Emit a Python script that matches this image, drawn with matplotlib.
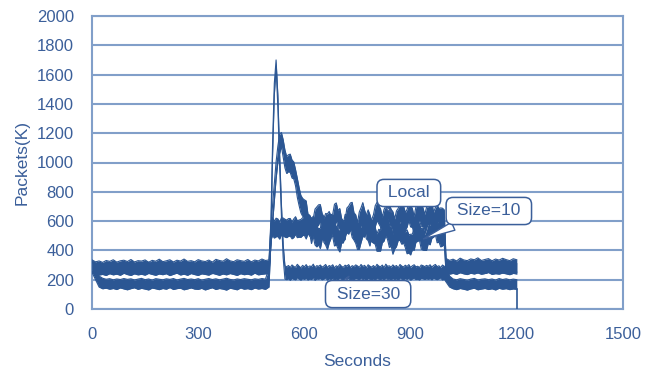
import numpy as np
import matplotlib
matplotlib.use("Agg")
import matplotlib.pyplot as plt

plt.rcParams['font.family'] = ['Liberation Sans', 'DejaVu Sans']

# ---------------- data ----------------
# time grid: 0-490 every 10 s, 500-995 every 5 s, 1000-1200 every 10 s
t_a = list(range(0, 500, 10))
t_b = list(range(500, 1000, 5))
t_c = list(range(1000, 1201, 10))
seconds = np.array(t_a + t_b + t_c)

# Local: lower / upper edge of the noisy trace (packets, K)
local_lo = ([250,238,232,236,229,241,233,238,230,244, 235,229,240,233,237,231,243,236,230,239,
             234,241,228,237,245,232,238,230,242,235, 229,240,236,231,244,237,230,239,233,242,
             236,229,241,234,238,231,245,233,237,240]
            + [240,418,582,734,888,1000,1062,1111,1037,963,
               925,938,932,894,888,840,762,706,657,633,
               628,612,525,515,447,509,543,560,572,604,
               529,455,437,406,451,482,530,552,608,551,
               553,486,467,474,555,590,589,574,531,498,
               456,532,573,573,555,479,467,430,494,528,
               561,604,582,561,493,539,567,616,578,562,
               514,471,549,565,600,603,536,537,559,605,
               560,558,513,532,602,606,565,563,517,560,
               579,580,586,541,532,604,564,551,555,537]
            + [245,238,243,236,248,240,235,244,239,246, 237,242,249,236,241,238,245,240,234,243, 239])
local_hi = ([335,322,328,318,331,325,336,320,329,333, 324,338,321,330,327,335,319,332,326,340,
             323,329,336,321,333,327,341,325,330,322, 337,328,324,334,320,339,331,326,343,329,
             323,336,330,325,338,322,334,328,341,331]
            + [335,533,707,857,1004,1111,1192,1205,1156,1085,
               1040,1053,1057,1017,1004,951,892,829,776,755,
               745,738,649,636,617,618,682,697,711,713,
               652,630,550,539,548,644,647,715,724,671,
               686,619,600,606,689,702,724,728,657,643,
               590,662,691,726,676,638,565,585,611,643,
               705,728,707,684,628,680,703,722,718,680,
               664,615,669,687,718,716,706,658,680,722,
               712,685,633,698,714,719,728,690,646,693,
               699,727,725,661,692,711,686,690,688,677]
            + [345,332,340,328,347,335,330,342,336,349, 331,338,344,329,341,334,346,337,330,343, 336])

# Size=10
s10_lo = ([255,246,251,243,249,256,244,250,247,253, 242,252,248,245,254,241,250,246,253,244,
           249,255,243,251,247,240,252,248,245,256, 243,250,246,254,241,249,253,245,251,247,
           244,255,242,250,248,253,246,241,252,249]
          + [248,466,503,484,493,495,477,505,499,491,
             487,496,498,479,488,510,487,490,489,501,
             503,478,516,496,509,492,437,424,439,412,
             471,485,534,518,522,528,492,430,440,410,
             389,450,452,497,521,511,542,488,470,448,
             406,407,454,495,491,528,526,524,458,450,
             442,394,395,395,452,464,502,473,420,431,
             374,410,426,468,468,442,452,419,377,383,
             369,405,401,456,462,469,410,402,400,400,
             448,438,483,490,507,452,458,424,430,440]
          + [255,250,246,253,248,256,244,251,247,254, 249,243,252,246,255,248,250,245,253,247, 251])
s10_hi = ([318,305,312,302,315,309,301,314,306,311, 303,317,308,300,313,307,319,304,310,302,
           316,306,312,303,309,318,305,313,301,310, 307,315,304,312,300,317,308,303,314,306,
           311,302,316,309,305,313,301,310,307,315]
          + [318,587,623,599,620,615,592,622,621,613,
             607,617,618,594,615,630,602,607,611,623,
             630,602,646,640,617,633,571,563,549,550,
             613,618,652,649,666,636,640,573,567,545,
             523,579,582,645,647,654,661,611,614,568,
             534,565,560,626,633,642,677,644,600,595,
             556,513,544,537,579,601,611,622,568,550,
             508,552,554,587,589,608,565,526,540,507,
             510,511,555,565,616,578,548,553,507,541,
             586,572,618,620,632,590,583,550,557,569]
          + [320,311,316,305,318,309,314,303,317,310, 306,315,308,319,304,312,307,316,310,313, 309])

# Size=30
s30_lo = ([250,200,150,138,142,135,140,133,144,137, 131,139,145,134,141,136,130,143,138,132,
           140,135,146,133,139,142,131,137,144,136, 134,141,130,138,145,133,140,136,129,142,
           137,131,144,135,139,132,143,136,140,134]
          + [150,440,1040,1460,1650,1380,980,640,350,205,
             200,208,196,211,203,199,214,205,197,209,
             202,212,198,206,201,215,196,207,204,210,
             199,205,213,197,208,202,211,196,206,200,
             214,203,198,209,205,212,197,204,201,210,
             206,199,213,202,208,196,211,204,200,207,
             198,212,205,201,209,197,214,203,206,199,
             210,202,208,196,213,205,200,209,203,211,
             197,206,212,201,204,198,210,207,202,208,
             203,209,199,212,205,200,207,213,198,204]
          + [185,150,138,132,140,135,129,137,142,131, 136,140,133,138,130,141,135,139,132,137, 134])
s30_hi = ([330,270,225,210,203,207,199,205,201,208, 202,206,198,204,209,200,205,197,207,203,
           199,206,202,208,198,204,209,201,205,200, 207,197,203,208,201,206,199,204,210,202,
           198,205,201,207,203,199,206,202,208,204]
          + [280,560,1120,1540,1700,1460,1060,720,440,295,
             288,297,283,301,290,285,305,292,281,298,
             287,303,284,294,289,306,282,296,291,300,
             286,293,304,283,297,290,302,280,295,288,
             305,291,285,299,293,303,282,296,289,301,
             294,284,304,290,298,281,302,292,286,297,
             283,305,293,288,300,282,306,291,295,285,
             301,289,297,281,304,293,287,299,290,303,
             284,295,302,288,292,283,300,296,289,298,
             291,302,286,297,304,289,295,283,300,292]
          + [285,225,205,199,207,202,196,204,209,198, 203,206,200,205,197,208,201,206,199,204, 200])

series = [
    ("Local", local_lo, local_hi),
    ("Size=10", s10_lo, s10_hi),
    ("Size=30", s30_lo, s30_hi),
]

# callouts: (label, point seconds, point value, box seconds, box value)
callouts = [
    ("Local", 828, 662, 895, 792),
    ("Size=10", 929, 471, 1121, 669),
    ("Size=30", 715, 205, 780, 102),
]

x_ticks = [0, 300, 600, 900, 1200, 1500]
y_ticks = list(range(0, 2001, 200))

# ---------------- style ----------------
line_c = '#2b5693'
text_c = '#3b5f9a'
grid_c = '#819fc9'

fig = plt.figure(figsize=(6.58, 3.72), dpi=100)
ax = fig.add_axes([92/658, 1-309/372, (623-92)/658, (309-16)/372])

for name, lo, hi in series:
    lo = np.array(lo, dtype=float)
    hi = np.array(hi, dtype=float)
    assert len(lo) == len(seconds) and len(hi) == len(seconds), name
    ax.fill_between(seconds, lo, hi, color=line_c, lw=0, zorder=3)
    ax.plot(seconds, lo, color=line_c, lw=0.8, zorder=3)
    ax.plot(seconds, hi, color=line_c, lw=0.8, zorder=3)

# Size=30 trace ends with a drop to zero
ax.plot([seconds[-1], seconds[-1]], [s30_lo[-1], 0], color=line_c, lw=1.2, zorder=3)

for label, px, py, bx, by in callouts:
    ax.annotate(" " + label + " ", xy=(px, py), xytext=(bx, by), ha='center', va='center',
                fontsize=12.5, color=text_c, zorder=5,
                bbox=dict(boxstyle='round,pad=0.35,rounding_size=0.4', fc='white',
                          ec=text_c, lw=1.1),
                arrowprops=dict(arrowstyle='wedge,tail_width=0.5,shrink_factor=0.5',
                                fc='white', ec=text_c, lw=1.0))

ax.set_xlim(0, 1500)
ax.set_ylim(0, 2000)
ax.set_xticks(x_ticks)
ax.set_yticks(y_ticks)
ax.tick_params(length=0, labelsize=12, labelcolor=text_c, pad=13)
ax.yaxis.grid(True, color=grid_c, lw=1.5, zorder=0)
ax.set_axisbelow(True)
for s in ax.spines.values():
    s.set_color(grid_c)
    s.set_linewidth(1.5)

ax.set_xlabel("Seconds", fontsize=12.5, color=text_c)
ax.set_ylabel("Packets(K)", fontsize=12.5, color=text_c)
ax.xaxis.set_label_coords(0.5, -0.155)
ax.yaxis.set_label_coords(-0.118, 0.5)

fig.savefig("out.png", dpi=100)
